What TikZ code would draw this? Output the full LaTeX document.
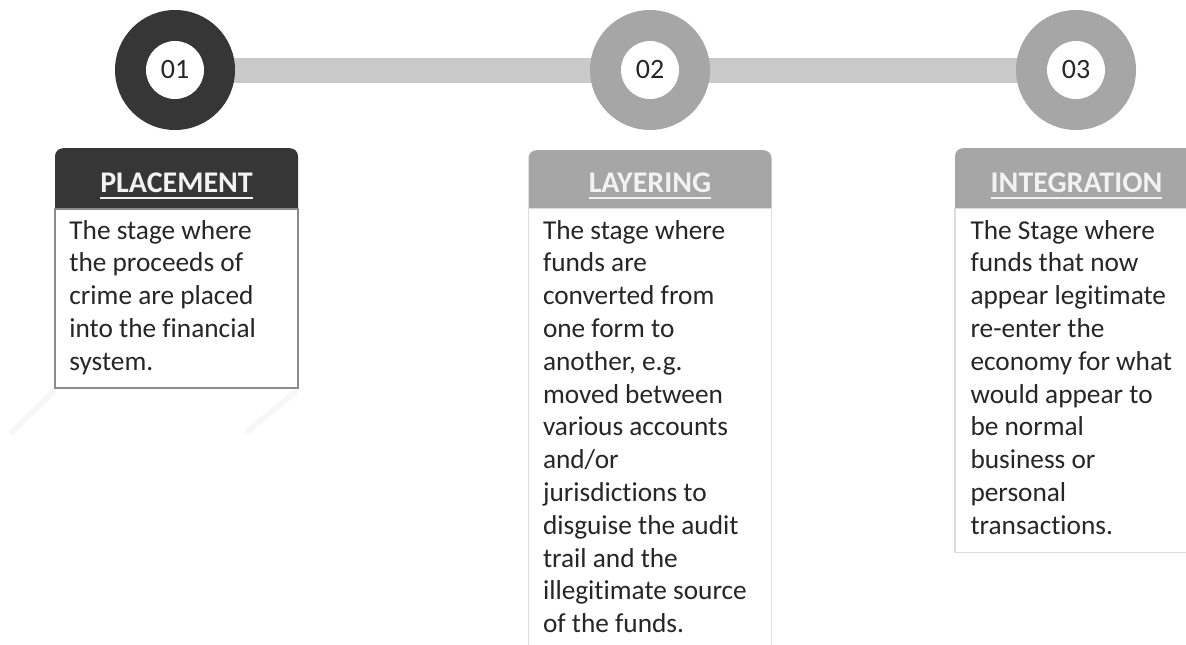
\documentclass[tikz,border=0pt]{standalone}
\usepackage{fontspec}
\setmainfont{Carlito}[RawFeature={-liga;-dlig;-clig}]
\usetikzlibrary{backgrounds}
\definecolor{darkc}{HTML}{363636}
\definecolor{midc}{HTML}{A6A6A6}
\definecolor{barc}{HTML}{C9C9C9}
\definecolor{txtc}{HTML}{262626}
\definecolor{edge1}{HTML}{8C8C8C}
\definecolor{edge2}{HTML}{DCDCDC}
\begin{document}
\begin{tikzpicture}[x=1pt,y=-1pt,
  ring/.style={circle, minimum size=120, inner sep=0},
  hole/.style={circle, fill=white, minimum size=58, inner sep=0, font=\fontsize{28}{28}\selectfont, text=txtc},
  head/.style={rectangle, rounded corners=8, minimum width=243, minimum height=68, anchor=north, inner sep=0},
  title/.style={anchor=base, inner sep=0, font=\bfseries\fontsize{30}{30}\selectfont, text=white!95!black},
  uline/.style={white!95!black, line width=2},
  body/.style={rectangle, fill=white, minimum width=243, anchor=north, inner sep=0},
  btext/.style={anchor=north west, align=left, inner sep=0, font=\fontsize{27.3}{32.8}\selectfont, text=txtc},
  bar/.style={barc, line width=25}
]
\useasboundingbox (0,0) rectangle (1186,645);
\clip (0,0) rectangle (1186,645);

% faint shadow below box 1
\draw[black!3, line width=6, line cap=round] (12,432) -- (53,392);
\draw[black!3, line width=6, line cap=round] (247,432) -- (295,392);

% circles
\node[ring, fill=darkc] (c1) at (175,70) {};
\node[ring, fill=midc] (c2) at (650,70) {};
\node[ring, fill=midc] (c3) at (1076,70) {};
\node[hole] (n1) at (c1.center) {01};
\node[hole] (n2) at (c2.center) {02};
\node[hole] (n3) at (c3.center) {03};
\begin{pgfonlayer}{background}
\draw[bar] (c1.center) -- (c3.center);
\end{pgfonlayer}

% box 1
\node[head, fill=darkc] (h1) at (176.5,148) {};
\node[body, draw=edge1, line width=1.6, minimum height=179] (b1) at (176.5,208) {};
\node[title] (t1) at (176.5,192) {PLACEMENT};
\draw[uline] ([yshift=-6pt]t1.base west) -- ([yshift=-6pt]t1.base east);
\node[btext] (x1) at ([xshift=15pt,yshift=-12pt]b1.north west) {The stage where\\the proceeds of\\crime are placed\\into the financial\\system.};

% box 2
\node[head, fill=midc] (h2) at (650,150) {};
\node[body, draw=edge2, line width=1.4, minimum height=600] (b2) at (650,208) {};
\node[title] (t2) at (650,192) {LAYERING};
\draw[uline] ([yshift=-6pt]t2.base west) -- ([yshift=-6pt]t2.base east);
\node[btext] (x2) at ([xshift=15pt,yshift=-12pt]b2.north west) {The stage where\\funds are\\converted from\\one form to\\another, e.g.\\moved between\\various accounts\\and/or\\jurisdictions to\\disguise the audit\\trail and the\\illegitimate source\\of the funds.};

% box 3
\node[head, fill=midc] (h3) at (1076.5,148) {};
\node[body, draw=edge2, line width=1.4, minimum height=344] (b3) at (1076.5,208) {};
\node[title] (t3) at (1076.5,192) {INTEGRATION};
\draw[uline] ([yshift=-6pt]t3.base west) -- ([yshift=-6pt]t3.base east);
\node[btext] (x3) at ([xshift=16pt,yshift=-12pt]b3.north west) {The Stage where\\funds that now\\appear legitimate\\re-enter the\\economy for what\\would appear to\\be normal\\business or\\personal\\transactions.};
\end{tikzpicture}
\end{document}
